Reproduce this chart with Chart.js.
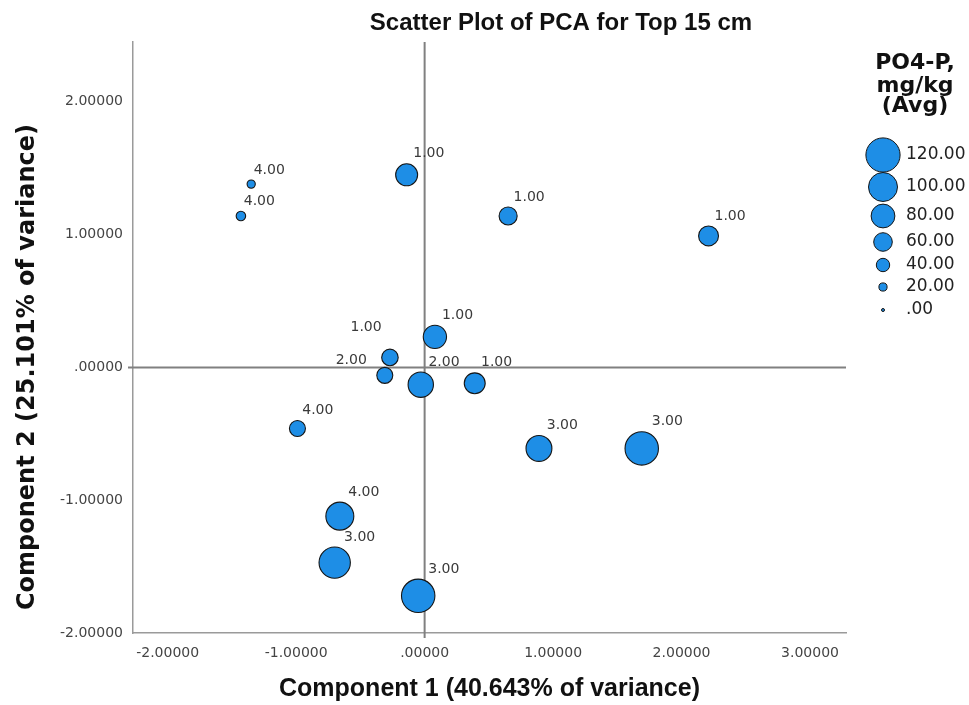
<!DOCTYPE html>
<html>
<head>
<meta charset="utf-8">
<script src="https://cdn.jsdelivr.net/npm/chart.js@4.4.1/dist/chart.umd.min.js"></script>
<style>
html, body { margin: 0; padding: 0; background: #fff; }
#wrap { width: 969px; height: 705px; }
</style>
</head>
<body>
<div id="wrap"><canvas id="pcaChart" width="969" height="705"></canvas></div>
<script>
// PCA scores, one entry per sample
var comp1 = [-1.35, -1.43, -0.14, 0.65, 2.21, 0.08, -0.27, -0.31, -0.03, 0.39, -0.99, 0.89, 1.69, -0.66, -0.70, -0.05]
var comp2 = [1.38, 1.14, 1.45, 1.14, 0.99, 0.23, 0.075, -0.06, -0.13, -0.12, -0.46, -0.61, -0.61, -1.12, -1.47, -1.72]
// PO4-P mg/kg (avg) -> bubble size
var po4Avg = [20, 25, 73, 58, 65, 78, 52, 50, 86, 69, 50, 88, 117, 96, 109, 117]
// cluster number printed next to each bubble
var clusterNo = [4, 4, 1, 1, 1, 1, 1, 2, 2, 1, 4, 3, 3, 4, 3, 3]

var xTicks = [-2, -1, 0, 1, 2, 3]
var yTicks = [-2, -1, 0, 1, 2]
var legendValues = [120, 100, 80, 60, 40, 20, 0]

var titleText = "Scatter Plot of PCA for Top 15 cm"
var xTitle = "Component 1 (40.643% of variance)"
var yTitle = "Component 2 (25.101% of variance)"
var legendTitle = ["PO4-P,", "mg/kg", "(Avg)"]

var bubbleFill = "#1e8ee6"
var bubbleLine = "#151515"

function bubbleRadius(v) {
	return 1.5 + v * 0.13
}

// SPSS style: drop the leading zero
function spssFmt(v, dec) {
	return v.toFixed(dec).replace(/^(-?)0\./, "$1.")
}

var points = []
for (var i = 0; i < comp1.length; i++) {
	points.push({ x: comp1[i], y: comp2[i], r: bubbleRadius(po4Avg[i]) })
}

var refLines = {
	id: "refLines",
	beforeDatasetsDraw: function (chart) {
		var c = chart.ctx, a = chart.chartArea
		var x0 = chart.scales.x.getPixelForValue(0)
		var y0 = chart.scales.y.getPixelForValue(0)
		c.save()
		c.strokeStyle = "#808080"
		c.lineWidth = 2
		c.beginPath()
		c.moveTo(x0, a.top)
		c.lineTo(x0, a.bottom + 5)
		c.moveTo(a.left - 5, y0)
		c.lineTo(a.right, y0)
		c.stroke()
		c.restore()
	}
}

var pointLabels = {
	id: "pointLabels",
	afterDatasetsDraw: function (chart, args, opts) {
		var c = chart.ctx
		var meta = chart.getDatasetMeta(0)
		c.save()
		c.font = "14px 'DejaVu Sans'"
		c.fillStyle = "#3a3a3a"
		c.textBaseline = "middle"
		meta.data.forEach(function (el, i) {
			var r = el.options.radius
			var o = opts.moved[i]
			var txt = spssFmt(clusterNo[i], 2)
			if (o) {
				c.textAlign = "right"
				c.fillText(txt, el.x - r + o.dx, el.y - r + o.dy)
			} else {
				c.textAlign = "left"
				c.fillText(txt, el.x + 0.6 * r, el.y - r - 10)
			}
		})
		c.restore()
	}
}

var sideStuff = {
	id: "sideStuff",
	afterDraw: function (chart, args, opts) {
		var c = chart.ctx
		c.save()
		// chart title
		c.fillStyle = "#111"
		c.textAlign = "center"
		c.textBaseline = "middle"
		c.font = "bold 24px 'Liberation Sans'"
		c.fillText(titleText, opts.titleX, opts.titleY)
		// y axis title, rotated
		c.save()
		c.translate(opts.yTitleX, opts.yTitleY)
		c.rotate(-Math.PI / 2)
		c.font = "bold 24px 'DejaVu Sans'"
		c.fillText(yTitle, 0, 0)
		c.restore()
		// legend title
		c.font = "bold 22px 'DejaVu Sans'"
		legendTitle.forEach(function (t, k) {
			c.fillText(t, opts.legendX + 32, opts.legendTitleY[k])
		})
		// legend bubbles
		c.font = "17px 'DejaVu Sans'"
		c.textAlign = "left"
		legendValues.forEach(function (v, k) {
			var y = opts.legendRowY[k]
			c.beginPath()
			c.arc(opts.legendX, y, bubbleRadius(v), 0, Math.PI * 2)
			c.fillStyle = bubbleFill
			c.fill()
			c.lineWidth = 1
			c.strokeStyle = bubbleLine
			c.stroke()
			c.fillStyle = "#222"
			c.fillText(spssFmt(v, 2), opts.legendX + 23, y)
		})
		c.restore()
	}
}

var ctx = document.getElementById("pcaChart")
var chart = new Chart(ctx, {
	type: "bubble",
	data: {
		datasets: [{
			label: "PO4-P",
			data: points,
			backgroundColor: bubbleFill,
			borderColor: bubbleLine,
			borderWidth: 1.1,
			clip: false
		}]
	},
	options: {
		responsive: false,
		animation: false,
		events: [],
		layout: {
			padding: { left: 0, right: 123, top: 42, bottom: 0 }
		},
		scales: {
			x: {
				type: "linear",
				min: -2.27,
				max: 3.28,
				afterBuildTicks: function (s) {
					s.ticks = xTicks.map(function (v) { return { value: v } })
				},
				afterFit: function (s) { s.height = 72 },
				grid: { display: false, drawTicks: false },
				border: { display: true, color: "#9a9a9a", width: 1.5 },
				ticks: {
					autoSkip: false,
					maxRotation: 0,
					padding: 12,
					color: "#444",
					font: { family: "DejaVu Sans", size: 14 },
					callback: function (v) { return spssFmt(v, 5) }
				},
				title: {
					display: true,
					text: xTitle,
					color: "#111",
					font: { family: "Liberation Sans", size: 25, weight: "bold" },
					padding: { top: 0, bottom: 1 }
				}
			},
			y: {
				type: "linear",
				min: -2.0,
				max: 2.45,
				afterBuildTicks: function (s) {
					s.ticks = yTicks.map(function (v) { return { value: v } })
				},
				afterFit: function (s) { s.width = 133 },
				grid: { display: false, drawTicks: false },
				border: { display: true, color: "#9a9a9a", width: 1.5 },
				ticks: {
					autoSkip: false,
					padding: 10,
					color: "#444",
					font: { family: "DejaVu Sans", size: 14 },
					callback: function (v) { return spssFmt(v, 5) }
				}
			}
		},
		plugins: {
			legend: { display: false },
			tooltip: { enabled: false },
			pointLabels: {
				moved: { 6: { dx: 0, dy: -22 }, 7: { dx: -10, dy: -7 } }
			},
			sideStuff: {
				titleX: 561,
				titleY: 23,
				yTitleX: 28,
				yTitleY: 367,
				legendX: 883,
				legendTitleY: [63, 86, 106],
				legendRowY: [155, 187, 216, 242, 265, 287, 310]
			}
		}
	},
	plugins: [refLines, pointLabels, sideStuff]
})
</script>
</body>
</html>
